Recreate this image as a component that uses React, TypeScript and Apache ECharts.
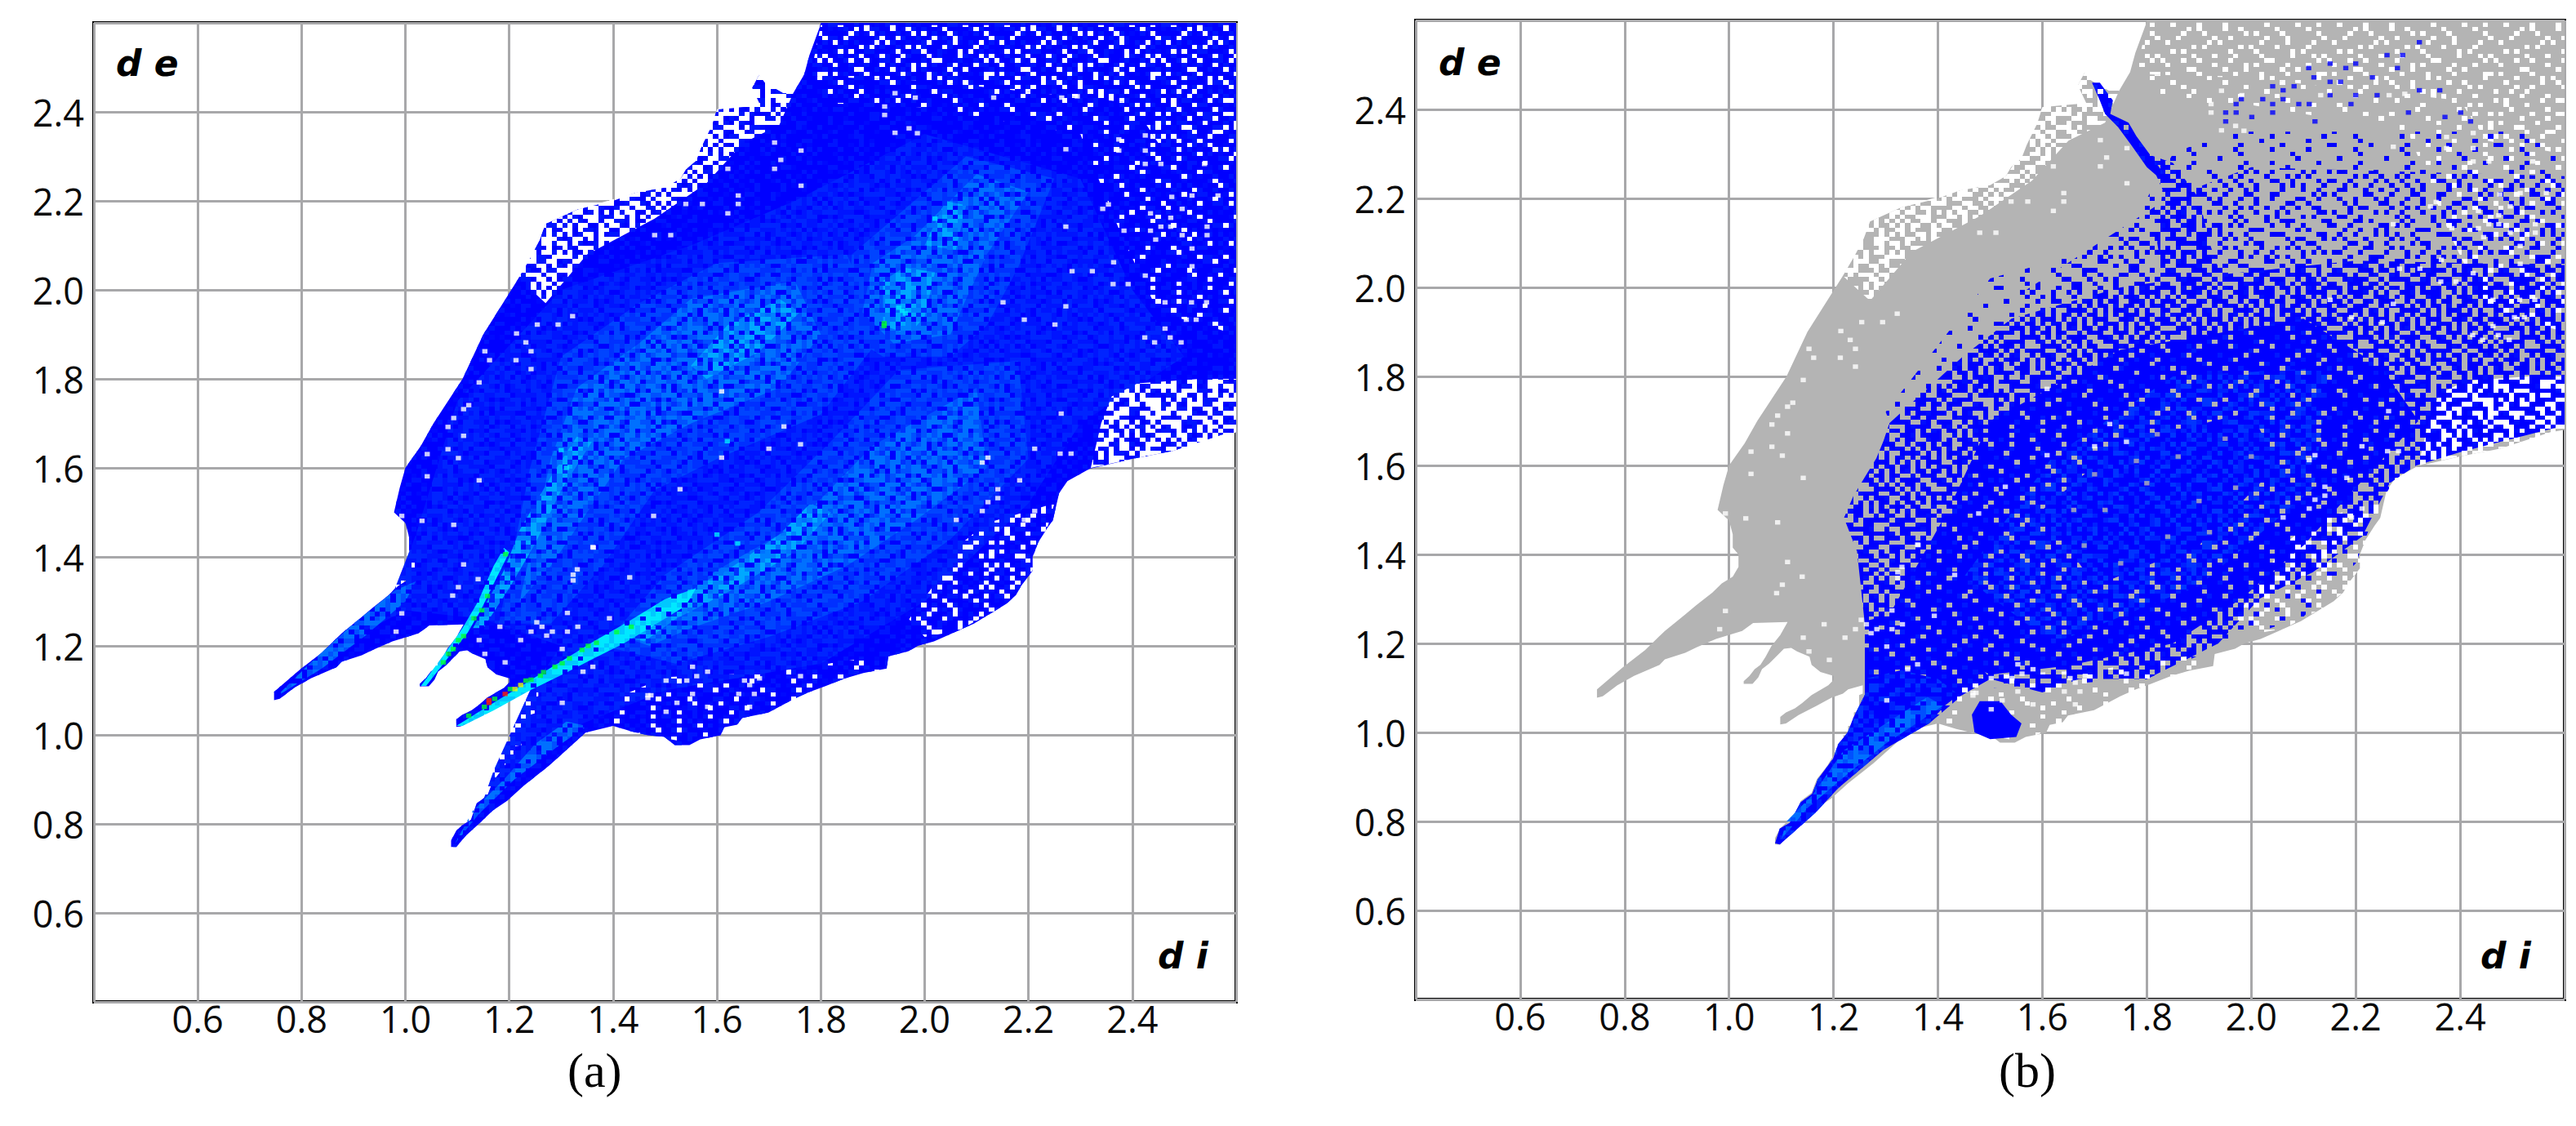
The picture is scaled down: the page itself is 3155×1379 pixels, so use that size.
import { useEffect, useRef } from "react";
import * as echarts from "echarts";

type Pt = [number, number];

const tickLabels = ["0.6", "0.8", "1.0", "1.2", "1.4", "1.6", "1.8", "2.0", "2.2", "2.4"];

// region outline, [di, de]
const outline: Pt[] = [
    [0.747, 1.078], [0.747, 1.097], [0.796, 1.146], [0.839, 1.185], [0.877, 1.228], [0.916, 1.265], [0.937, 1.286],
    [0.968, 1.314], [0.986, 1.335], [1.007, 1.35], [1.018, 1.372], [1.018, 1.4], [1.007, 1.415], [1.007, 1.445],
    [1.0, 1.476], [0.978, 1.5], [0.989, 1.555], [1.0, 1.6], [1.03, 1.65], [1.054, 1.7], [1.11, 1.8], [1.15, 1.9],
    [1.218, 2.026], [1.24, 2.07], [1.258, 2.11], [1.27, 2.148], [1.33, 2.18], [1.4, 2.2], [1.442, 2.218], [1.5, 2.23],
    [1.53, 2.25], [1.54, 2.27], [1.56, 2.29], [1.57, 2.32], [1.59, 2.368], [1.6, 2.405], [1.684, 2.414], [1.668, 2.454],
    [1.681, 2.483], [1.692, 2.466], [1.727, 2.442], [1.747, 2.442], [1.768, 2.484], [1.778, 2.527], [1.798, 2.591],
    [1.8, 2.6], [2.6, 2.6], [2.6, 1.68], [2.573, 1.675], [2.478, 1.638], [2.4, 1.62], [2.318, 1.598], [2.275, 1.57],
    [2.259, 1.543], [2.247, 1.482], [2.236, 1.464], [2.219, 1.433], [2.208, 1.4], [2.208, 1.369], [2.186, 1.335],
    [2.176, 1.314], [2.158, 1.295], [2.137, 1.28], [2.095, 1.25], [2.064, 1.234], [2.035, 1.219], [2.018, 1.21],
    [1.987, 1.2], [1.969, 1.188], [1.93, 1.176], [1.927, 1.149], [1.882, 1.139], [1.847, 1.127], [1.808, 1.109],
    [1.777, 1.096], [1.749, 1.081], [1.699, 1.05], [1.649, 1.038], [1.639, 1.023], [1.614, 1.017], [1.607, 0.999],
    [1.568, 0.99], [1.547, 0.977], [1.519, 0.977], [1.498, 0.996], [1.467, 0.999], [1.435, 1.008], [1.4, 1.02],
    [1.347, 1.005], [1.312, 0.968], [1.277, 0.931], [1.228, 0.886], [1.196, 0.852], [1.168, 0.83], [1.147, 0.806],
    [1.116, 0.773], [1.098, 0.748], [1.088, 0.748], [1.088, 0.763], [1.098, 0.785], [1.109, 0.797], [1.126, 0.809],
    [1.137, 0.846], [1.158, 0.864], [1.168, 0.895], [1.188, 0.925], [1.198, 0.945], [1.208, 0.956], [1.208, 0.974],
    [1.224, 0.977], [1.218, 0.993], [1.228, 0.996], [1.228, 1.014], [1.239, 1.017], [1.239, 1.045], [1.249, 1.048],
    [1.249, 1.084], [1.256, 1.087], [1.256, 1.106], [1.228, 1.097], [1.218, 1.087], [1.196, 1.078], [1.168, 1.06],
    [1.133, 1.039], [1.109, 1.02], [1.098, 1.018], [1.098, 1.035], [1.109, 1.045], [1.126, 1.054], [1.14, 1.066],
    [1.158, 1.084], [1.19, 1.106], [1.2, 1.118], [1.2, 1.127], [1.175, 1.136], [1.158, 1.152], [1.154, 1.17],
    [1.13, 1.182], [1.119, 1.19], [1.105, 1.188], [1.095, 1.176], [1.077, 1.155], [1.063, 1.142], [1.056, 1.124],
    [1.045, 1.109], [1.028, 1.109], [1.028, 1.115], [1.039, 1.127], [1.049, 1.142], [1.06, 1.152], [1.07, 1.17],
    [1.081, 1.194], [1.098, 1.219], [1.112, 1.248], [1.046, 1.246], [1.025, 1.228], [0.975, 1.21], [0.937, 1.191],
    [0.916, 1.179], [0.877, 1.164], [0.867, 1.152], [0.818, 1.127], [0.786, 1.106], [0.758, 1.081],
];

// bands near the edge where the plot breaks up into loose cells
const fringeTopLeft: Pt[] = [[1.218, 2.026], [1.27, 2.148], [1.33, 2.18], [1.442, 2.218], [1.53, 2.25], [1.57, 2.32], [1.6, 2.405], [1.668, 2.454], [1.681, 2.483], [1.727, 2.442], [1.747, 2.442], [1.72, 2.37], [1.65, 2.33], [1.58, 2.24], [1.48, 2.16], [1.35, 2.08], [1.27, 1.97]];
const fringeTop: Pt[] = [[1.8, 2.595], [2.6, 2.595], [2.6, 2.3], [2.45, 2.33], [2.4, 2.42], [2.0, 2.47], [1.78, 2.48]];
const fringeTopLow: Pt[] = [[1.78, 2.48], [2.0, 2.47], [2.4, 2.42], [2.45, 2.33], [2.3, 2.35], [2.0, 2.41], [1.8, 2.42]];
const fringeUpperRight: Pt[] = [[2.3, 2.35], [2.45, 2.33], [2.6, 2.3], [2.6, 1.9], [2.45, 1.95], [2.38, 2.12]];
const fringeLowerRight: Pt[] = [[2.32, 1.6], [2.34, 1.7], [2.36, 1.76], [2.41, 1.79], [2.53, 1.8], [2.6, 1.8], [2.6, 1.68], [2.478, 1.638], [2.4, 1.62]];
const fringeRightEdge: Pt[] = [[2.0, 1.22], [2.064, 1.234], [2.137, 1.28], [2.176, 1.314], [2.208, 1.37], [2.219, 1.433], [2.236, 1.464], [2.25, 1.52], [2.12, 1.476], [2.06, 1.42], [2.02, 1.34], [1.97, 1.26]];
const fringeBottom: Pt[] = [[1.4, 1.02], [1.467, 0.999], [1.56, 0.98], [1.6, 1.0], [1.699, 1.05], [1.847, 1.127], [1.927, 1.149], [1.93, 1.18], [1.7, 1.14], [1.5, 1.13], [1.4, 1.08]];

// density zones of panel (a), outer ones are wider and paler
const zoneFaint: Pt[] = [[1.02, 1.45], [1.1, 1.75], [1.3, 2.0], [1.55, 2.1], [1.75, 2.2], [2.0, 2.35], [2.3, 2.25], [2.4, 2.0], [2.5, 1.85], [2.3, 1.7], [2.2, 1.52], [2.0, 1.3], [1.8, 1.16], [1.5, 1.1], [1.33, 1.02], [1.2, 0.9], [1.14, 0.82], [1.17, 0.92], [1.24, 1.1], [1.3, 1.2], [1.15, 1.26], [1.0, 1.28], [0.9, 1.22], [0.98, 1.33]];
const zoneLeftSpike: Pt[] = [[0.75, 1.085], [0.82, 1.165], [0.9, 1.25], [0.98, 1.325], [1.02, 1.345], [1.0, 1.3], [0.92, 1.22], [0.84, 1.15]];
const zoneLowSpike: Pt[] = [[1.095, 0.755], [1.14, 0.82], [1.21, 0.9], [1.3, 0.98], [1.35, 1.02], [1.31, 1.03], [1.25, 0.98], [1.19, 0.9], [1.13, 0.83]];
const outerSwath: Pt[] = [[1.18, 1.25], [1.24, 1.6], [1.3, 1.85], [1.45, 1.97], [1.6, 2.06], [1.85, 2.08], [1.92, 1.9], [1.8, 1.72], [1.6, 1.62], [1.48, 1.55], [1.38, 1.38], [1.28, 1.25]];
const outerDiag: Pt[] = [[1.38, 1.2], [1.5, 1.36], [1.68, 1.5], [1.82, 1.66], [1.95, 1.82], [2.18, 1.84], [2.2, 1.62], [2.05, 1.44], [1.88, 1.3], [1.7, 1.22], [1.52, 1.16]];
const outerBlob: Pt[] = [[1.85, 1.9], [1.86, 2.08], [1.96, 2.18], [2.08, 2.3], [2.25, 2.25], [2.18, 2.05], [2.12, 1.92], [2.05, 1.85], [1.92, 1.85]];
const zoneSwath: Pt[] = [[1.28, 1.62], [1.33, 1.78], [1.45, 1.88], [1.55, 1.98], [1.75, 2.02], [1.8, 1.9], [1.72, 1.78], [1.55, 1.7], [1.42, 1.62], [1.35, 1.5], [1.28, 1.38], [1.22, 1.3]];
const zoneDiag: Pt[] = [[1.42, 1.22], [1.6, 1.37], [1.75, 1.47], [1.9, 1.65], [2.1, 1.78], [2.12, 1.6], [1.98, 1.48], [1.85, 1.38], [1.7, 1.3], [1.55, 1.24], [1.47, 1.2]];
const zoneBlob: Pt[] = [[1.88, 1.95], [1.9, 2.06], [1.98, 2.12], [2.1, 2.26], [2.2, 2.22], [2.12, 2.08], [2.08, 1.98], [2.05, 1.9], [1.94, 1.88]];
const coreSpike2: Pt[] = [[1.13, 1.24], [1.19, 1.37], [1.22, 1.46], [1.28, 1.58], [1.33, 1.67], [1.36, 1.66], [1.3, 1.55], [1.25, 1.43], [1.2, 1.33], [1.15, 1.24]];
const coreDiag: Pt[] = [[1.42, 1.22], [1.5, 1.3], [1.62, 1.37], [1.72, 1.45], [1.78, 1.52], [1.82, 1.5], [1.75, 1.41], [1.62, 1.32], [1.52, 1.26], [1.46, 1.21]];
const coreBlob: Pt[] = [[1.92, 1.92], [1.92, 2.02], [1.96, 2.05], [2.02, 2.04], [2.0, 1.94], [1.97, 1.9]];
const coreSwath: Pt[] = [[1.55, 1.83], [1.62, 1.92], [1.72, 1.98], [1.76, 1.95], [1.68, 1.86], [1.58, 1.8]];
const coreTop: Pt[] = [[2.0, 2.1], [2.04, 2.2], [2.08, 2.19], [2.06, 2.09]];
const stripLong: Pt[] = [[1.098, 1.02], [1.16, 1.065], [1.23, 1.115], [1.3, 1.165], [1.37, 1.215], [1.43, 1.255], [1.5, 1.305], [1.56, 1.33], [1.54, 1.29], [1.47, 1.24], [1.42, 1.205], [1.36, 1.17], [1.31, 1.14], [1.24, 1.1], [1.17, 1.055], [1.11, 1.02]];
const stripShort: Pt[] = [[1.03, 1.11], [1.08, 1.19], [1.11, 1.24], [1.14, 1.3], [1.17, 1.38], [1.19, 1.42], [1.2, 1.41], [1.17, 1.34], [1.145, 1.28], [1.12, 1.23], [1.07, 1.155], [1.04, 1.11]];

// blue zones of panel (b)
const bSparse: Pt[] = [[1.3, 1.72], [1.5, 2.02], [1.75, 2.1], [1.85, 2.3], [1.95, 2.35], [2.6, 2.35], [2.6, 1.8], [2.5, 1.68], [2.3, 1.62], [2.24, 1.5], [2.2, 1.38], [2.1, 1.26], [1.95, 1.2], [1.8, 1.12], [1.5, 1.1]];
const bLight: Pt[] = [[1.55, 1.98], [1.84, 2.2], [2.0, 2.27], [2.6, 2.25], [2.6, 1.8], [1.8, 1.8]];
const bMedium: Pt[] = [[1.22, 1.482], [1.238, 1.531], [1.26, 1.574], [1.282, 1.616], [1.296, 1.656], [1.307, 1.695], [1.447, 1.844], [1.541, 1.93], [1.75, 2.0], [1.87, 2.02], [2.2, 2.06], [2.6, 2.05], [2.6, 1.69], [2.4, 1.63], [2.316, 1.6], [2.265, 1.56], [2.212, 1.44], [2.118, 1.36], [2.015, 1.3], [1.937, 1.2], [1.8, 1.12], [1.67, 1.12], [1.6, 1.09], [1.5, 1.12], [1.455, 1.092], [1.383, 1.02], [1.26, 1.085], [1.26, 1.243], [1.245, 1.407]];
const bDense: Pt[] = [[1.3, 1.25], [1.42, 1.5], [1.5, 1.7], [1.75, 1.86], [2.1, 1.93], [2.25, 1.82], [2.32, 1.7], [2.2, 1.55], [2.1, 1.42], [1.98, 1.3], [1.85, 1.2], [1.65, 1.15], [1.5, 1.13]];
const bCore: Pt[] = [[1.45, 1.35], [1.62, 1.62], [1.85, 1.8], [2.15, 1.82], [2.12, 1.55], [1.9, 1.33], [1.62, 1.2]];
const bInner: Pt[] = [[1.6, 1.5], [1.75, 1.65], [2.0, 1.72], [2.05, 1.6], [1.9, 1.42], [1.7, 1.33]];
const bSpike: Pt[] = [[1.26, 1.12], [1.26, 1.085], [1.249, 1.059], [1.238, 1.033], [1.227, 1.0], [1.209, 0.974], [1.199, 0.941], [1.17, 0.895], [1.159, 0.862], [1.137, 0.843], [1.116, 0.797], [1.097, 0.784], [1.088, 0.751], [1.097, 0.748], [1.166, 0.82], [1.209, 0.875], [1.296, 0.961], [1.383, 1.02], [1.412, 1.059], [1.44, 1.085], [1.4, 1.12], [1.33, 1.14]];
const bSpikeTop: Pt[] = [[1.26, 1.1], [1.26, 1.25], [1.33, 1.27], [1.45, 1.2], [1.5, 1.12], [1.44, 1.08]];
const bSpikeEdge: Pt[] = [[1.1, 0.76], [1.15, 0.83], [1.22, 0.9], [1.3, 0.975], [1.41, 1.06], [1.38, 1.08], [1.3, 1.02], [1.22, 0.96], [1.16, 0.86], [1.11, 0.8]];
const bBlob: Pt[] = [[1.47, 1.0], [1.5, 0.985], [1.55, 0.99], [1.56, 1.02], [1.54, 1.04], [1.52, 1.07], [1.48, 1.07], [1.465, 1.04]];
const bStrip: Pt[] = [[1.695, 2.46], [1.71, 2.46], [1.735, 2.42], [1.73, 2.39], [1.765, 2.37], [1.78, 2.34], [1.805, 2.3], [1.83, 2.26], [1.83, 2.24], [1.8, 2.27], [1.77, 2.32], [1.745, 2.36], [1.72, 2.39], [1.71, 2.42]];
const bCluster: Pt[] = [[1.8, 2.3], [1.85, 2.28], [1.9, 2.2], [1.92, 2.1], [1.95, 2.0], [1.84, 1.95], [1.82, 2.1], [1.83, 2.22]];

// single blue bins high up in panel (b)
const blueCellsTop: Pt[] = [
    [2.322, 2.551], [2.26, 2.522], [2.29, 2.522], [2.2, 2.503], [2.151, 2.503], [2.11, 2.493], [2.181, 2.493], [2.28, 2.493], [2.12, 2.472], [2.232, 2.472],
    [2.151, 2.462], [2.171, 2.462], [2.041, 2.452], [2.082, 2.452], [2.061, 2.443], [2.322, 2.443], [2.361, 2.443], [2.151, 2.432], [2.2, 2.432], [2.241, 2.432],
    [1.981, 2.423], [2.022, 2.423], [2.061, 2.423], [1.971, 2.412], [2.041, 2.412], [2.091, 2.412], [2.111, 2.412], [2.191, 2.412], [1.951, 2.393], [1.971, 2.393],
    [2.041, 2.393], [2.301, 2.393], [2.401, 2.393], [2.001, 2.383], [2.371, 2.383], [1.951, 2.373], [2.122, 2.373], [2.42, 2.373],
];

// a few gray bins left in the middle of panel (b)
const grayCellsInner: Pt[] = [
    [1.68, 1.42], [1.72, 1.5], [1.75, 1.38], [1.8, 1.56], [1.84, 1.44], [1.86, 1.62], [1.9, 1.52], [1.95, 1.66], [1.97, 1.55], [1.78, 1.61],
    [1.66, 1.5], [2.0, 1.62], [1.82, 1.67], [1.92, 1.45], [1.7, 1.58],
];

// single empty bins inside the region
const whiteCells: Pt[] = [
    [1.361, 1.422], [1.331, 1.372], [1.432, 1.354], [1.323, 1.347], [1.323, 1.36], [1.112, 1.383], [1.14, 1.35], [1.102, 1.332], [1.091, 1.313], [0.993, 1.273],
    [1.312, 1.274], [1.393, 1.262], [1.253, 1.253], [1.182, 1.243], [1.263, 1.243], [1.242, 1.232], [1.283, 1.232], [1.312, 1.232], [1.332, 1.243], [1.272, 1.223],
    [1.222, 1.213], [1.142, 1.213], [1.302, 1.193], [1.153, 1.182], [1.192, 1.163], [1.361, 1.153], [1.342, 1.142], [0.982, 1.232], [1.553, 1.153], [1.582, 1.142],
    [1.502, 1.122], [1.542, 1.122], [1.561, 1.132], [1.653, 1.122], [1.682, 1.127], [1.761, 1.132], [1.663, 1.112], [1.467, 1.089], [1.473, 1.089], [1.467, 1.083],
    [1.553, 1.092], [1.642, 1.092], [1.672, 1.092], [1.302, 1.072], [1.523, 1.072], [1.582, 1.063], [1.663, 1.063], [1.502, 1.052],
    [1.923, 2.412], [1.923, 2.393], [1.943, 2.353], [1.986, 2.352], [1.97, 2.363], [1.943, 2.442], [1.982, 2.432], [2.133, 2.432], [2.264, 2.432], [2.294, 2.435],
    [2.272, 2.316], [2.374, 2.338], [2.425, 2.347], [2.374, 2.313], [2.425, 2.313], [2.425, 2.283], [2.455, 2.283], [2.539, 2.283], [2.476, 2.209], [2.515, 2.212],
    [2.565, 2.212], [2.354, 2.192], [2.343, 2.182], [2.435, 2.172], [2.496, 2.182], [2.474, 2.162], [2.272, 2.142], [2.455, 2.142], [2.474, 2.142], [2.544, 2.142],
    [2.384, 2.133], [2.435, 2.133], [2.496, 2.123], [2.544, 2.123], [2.445, 2.113], [2.515, 2.093], [2.364, 2.062], [2.284, 2.042], [2.323, 2.042], [2.515, 2.053],
    [2.425, 2.032], [1.762, 2.234], [1.641, 2.212], [1.641, 2.193], [1.572, 2.193], [1.54, 2.193], [1.621, 2.172], [1.511, 2.123], [1.48, 2.123], [1.711, 2.331],
    [1.762, 2.313], [1.723, 2.292], [1.711, 2.272], [1.621, 2.272], [1.322, 1.941], [1.254, 1.922], [1.294, 1.922], [1.214, 1.902], [1.232, 1.882], [1.242, 1.862],
    [1.153, 1.862], [1.213, 1.842], [1.162, 1.842], [1.242, 1.822], [1.142, 1.792], [1.122, 1.741], [1.112, 1.732], [1.093, 1.712], [1.082, 1.692], [1.112, 1.672],
    [1.082, 1.642], [1.042, 1.631], [1.102, 1.622], [1.042, 1.581], [1.142, 1.572], [0.993, 1.492], [1.032, 1.481], [1.093, 1.472], [1.362, 1.421], [1.609, 1.772],
    [1.729, 1.693], [1.761, 1.653], [1.7, 1.643], [1.609, 1.623], [1.529, 1.552], [1.478, 1.492], [2.151, 1.972], [2.272, 1.963], [2.192, 1.933], [2.251, 1.922],
    [2.263, 1.722], [2.212, 1.643], [2.261, 1.632], [2.282, 1.632], [2.122, 1.623], [2.111, 1.612], [2.183, 1.572], [2.141, 1.552], [2.141, 1.532], [2.122, 1.523],
    [2.111, 1.503], [2.212, 1.503], [2.192, 1.483], [2.061, 1.483], [2.463, 1.972], [2.514, 1.972], [2.543, 1.972], [2.504, 1.933], [2.523, 1.933], [2.463, 1.913],
    [2.424, 1.893], [2.443, 1.882], [2.473, 1.893], [2.494, 1.882], [2.363, 2.013], [2.392, 2.013],
];

// hottest bins of the spikes in panel (a)
const greenCells: Pt[] = [
    [1.152, 1.063], [1.172, 1.081], [1.202, 1.103], [1.122, 1.043], [1.232, 1.122], [1.242, 1.124], [1.26, 1.133], [1.266, 1.141], [1.288, 1.153], [1.302, 1.161],
    [1.316, 1.172], [1.34, 1.191], [1.352, 1.2], [1.368, 1.207], [1.407, 1.231], [1.435, 1.243], [1.083, 1.182], [1.092, 1.193], [1.073, 1.163], [1.102, 1.213],
    [1.112, 1.222], [1.132, 1.262], [1.147, 1.28], [1.158, 1.312], [1.193, 1.406], [1.922, 1.919], [1.922, 1.925],
];
const yellowCells: Pt[] = [[1.211, 1.103], [1.222, 1.112]];
const redCells: Pt[] = [[1.161, 1.072], [1.161, 1.078], [1.192, 1.092]];
const cyanCells: Pt[] = [[1.957, 1.953], [1.95, 1.96], [1.963, 1.947], [2.02, 2.16], [1.62, 1.66], [1.3, 1.64], [1.31, 1.6], [1.6, 1.45], [1.64, 1.43]];

// mottling tile: one digit per bin, repeated as a fill
const speckleTile = [
    "03718250946137028591460372815940",
    "62950417382960417325089164703258",
    "17483096251748039612574803162947",
    "40926731850296371485932670418593",
    "85172049637514806293071854926013",
    "29630584172963051748462019375862",
    "71048392065841927036185743092461",
    "36592718403627195840369251704835",
    "04816357291480362759104826375190",
    "97230641859273164083572916048527",
    "52164908327506819243680357194263",
    "18795320647193520874216495830716",
    "60342875192648037196053782149085",
    "45081697320591746238974106523849",
    "93627104586037281950432861790254",
    "27519836041862593074618259347106",
    "81046295733719046582305947162893",
    "56382071948450623791872016435920",
    "09714563820927185346069138257461",
    "34295087161386490215743650928374",
    "72861934052715306849120783654109",
    "15049723686042971538697241085326",
    "68320541970893524106385904712658",
    "49176802353160487927416052839047",
    "20953174682547139068253798160314",
    "83607492015986250431708145296783",
    "37148650296401873592064329815670",
    "96025318747238014765981672043582",
    "51789043620859462013347590168297",
    "04362975189146730852986013427561",
    "78510236947320598146052784631908",
    "26943081574697213508741936205483",
];

const CELL_W = 6.36;
const CELL_H = 5.46;

// builds a repeating fill from the tile, color(digit) may give null for an empty bin
function tileFill(color: (d: number) => string | null) {
    const cols = speckleTile[0].length;
    const rows = speckleTile.length;
    const w = Math.round(cols * CELL_W);
    const h = Math.round(rows * CELL_H);
    const c = document.createElement("canvas");
    c.width = w;
    c.height = h;
    const ctx = c.getContext("2d")!;
    speckleTile.forEach((row, j) => {
        for (let i = 0; i < cols; i++) {
            const col = color(Number(row[i]));
            if (!col) continue;
            const x0 = Math.round((i * w) / cols);
            const x1 = Math.round(((i + 1) * w) / cols);
            const y0 = Math.round((j * h) / rows);
            const y1 = Math.round(((j + 1) * h) / rows);
            ctx.fillStyle = col;
            ctx.fillRect(x0, y0, x1 - x0, y1 - y0);
        }
    });
    return { image: c.toDataURL(), repeat: "repeat", imageWidth: w, imageHeight: h };
}

const holes = (limit: number, color: string) => tileFill((d) => (9 - d < limit ? color : null));
const cells = (limit: number, a: string, b: string) => tileFill((d) => (d < limit ? (d === 1 ? b : a) : null));
const dither = (limit: number, a: string, b: string) => tileFill((d) => (d < limit ? (d % 2 ? a : b) : null));

function polygonLayer(points: Pt[], fill: any, gridIndex: number) {
    return {
        type: "custom",
        coordinateSystem: "cartesian2d",
        xAxisIndex: gridIndex,
        yAxisIndex: gridIndex,
        silent: true,
        data: [[1, 1]],
        renderItem: (_p: any, api: any) => ({
            type: "polygon",
            shape: { points: points.map((pt) => api.coord(pt)) },
            style: { fill },
        }),
    };
}

function cellLayer(data: Pt[], color: string, gridIndex: number) {
    return {
        type: "scatter",
        xAxisIndex: gridIndex,
        yAxisIndex: gridIndex,
        silent: true,
        symbol: "rect",
        symbolSize: [CELL_W, CELL_H],
        itemStyle: { color },
        data,
    };
}

function axis(gridIndex: number, isX: boolean) {
    return {
        type: "value",
        gridIndex,
        min: 0.4,
        max: 2.6,
        interval: 0.2,
        axisLine: { show: false },
        axisTick: { show: false },
        splitLine: { show: true, lineStyle: { color: "#a8a8aa", width: 3 } },
        axisLabel: {
            showMinLabel: false,
            showMaxLabel: false,
            margin: isX ? -2 : 12,
            color: "#0a0a0a",
            fontSize: 45,
            fontFamily: "Open Sans",
            formatter: (v: number) => tickLabels[Math.round((v - 0.6) / 0.2)] ?? "",
        },
    };
}

const labelStyle = { fill: "#000", font: "italic bold 44px 'DejaVu Sans'" };
const captionStyle = { fill: "#000", font: "60px 'Liberation Serif'", textAlign: "center" };

export default function App() {
    const chartRef = useRef<HTMLDivElement>(null);

    useEffect(() => {
        if (!chartRef.current) return;
        document.body.style.margin = "0";
        const chart = echarts.init(chartRef.current, undefined, { renderer: "svg" });

        const base = "#0000ff";
        const speck = dither(3, "#0008ff", "#0014ff");
        const faint = dither(8, "#0014ff", "#0024ff");
        const pale = dither(8, "#0030ff", "#0044ff");
        const mid = dither(7, "#0050ff", "#0070ff");
        const hot = dither(6, "#0080ff", "#00a8ff");
        const cyan = dither(9, "#00c8ff", "#00e8ff");

        const whiteHeavy = holes(5, "#ffffff");
        const whiteMid = holes(2, "#ffffff");
        const whiteSparse = holes(1, "#ffffff");

        const blue85 = cells(9, "#0000ff", "#0018ff");
        const blue60 = cells(6, "#0000ff", "#000cff");
        const blue30 = cells(3, "#0000ff", "#0000ff");
        const blue10 = cells(1, "#0000ff", "#0000ff");
        const corePale = dither(4, "#0020ff", "#0034ff");

        const masks = (g: number) => [
            polygonLayer(fringeTop, whiteMid, g),
            polygonLayer(fringeTopLow, whiteSparse, g),
            polygonLayer(fringeUpperRight, whiteSparse, g),
            polygonLayer(fringeTopLeft, whiteHeavy, g),
            polygonLayer(fringeLowerRight, whiteHeavy, g),
            polygonLayer(fringeRightEdge, whiteMid, g),
            polygonLayer(fringeBottom, whiteSparse, g),
        ];

        const panelA = [
            polygonLayer(outline, base, 0),
            polygonLayer(outline, speck, 0),
            polygonLayer(zoneFaint, faint, 0),
            polygonLayer(outerSwath, pale, 0),
            polygonLayer(outerDiag, pale, 0),
            polygonLayer(outerBlob, pale, 0),
            polygonLayer(zoneLeftSpike, mid, 0),
            polygonLayer(zoneLowSpike, mid, 0),
            polygonLayer(zoneSwath, mid, 0),
            polygonLayer(zoneDiag, mid, 0),
            polygonLayer(zoneBlob, mid, 0),
            polygonLayer(coreSpike2, hot, 0),
            polygonLayer(coreDiag, hot, 0),
            polygonLayer(coreBlob, hot, 0),
            polygonLayer(coreSwath, hot, 0),
            polygonLayer(coreTop, hot, 0),
            polygonLayer(stripLong, cyan, 0),
            polygonLayer(stripShort, cyan, 0),
            ...masks(0),
            cellLayer(whiteCells, "#ffffff", 0),
            cellLayer(cyanCells, "#00e8ff", 0),
            cellLayer(greenCells, "#00ff30", 0),
            cellLayer(yellowCells, "#e8ff00", 0),
            cellLayer(redCells, "#ff2000", 0),
        ];

        const panelB = [
            polygonLayer(outline, "#b4b4b4", 1),
            ...masks(1),
            cellLayer(whiteCells, "#ffffff", 1),
            cellLayer(blueCellsTop, "#0000ff", 1),
            polygonLayer(bSparse, blue10, 1),
            polygonLayer(bLight, blue30, 1),
            polygonLayer(bMedium, blue60, 1),
            polygonLayer(bCluster, blue60, 1),
            polygonLayer(bDense, blue85, 1),
            polygonLayer(bInner, base, 1),
            cellLayer(grayCellsInner, "#b4b4b4", 1),
            polygonLayer(bCore, corePale, 1),
            polygonLayer(bSpikeTop, blue85, 1),
            polygonLayer(bSpike, base, 1),
            polygonLayer(bSpike, corePale, 1),
            polygonLayer(bSpikeEdge, mid, 1),
            polygonLayer(bBlob, base, 1),
            polygonLayer(bStrip, blue85, 1),
        ];

        chart.setOption({
            animation: false,
            backgroundColor: "#ffffff",
            grid: [
                { left: 115, top: 28, width: 1399, height: 1199, show: true, borderColor: "#000", borderWidth: 4, backgroundColor: "#fff" },
                { left: 1734, top: 25, width: 1407, height: 1199, show: true, borderColor: "#000", borderWidth: 4, backgroundColor: "#fff" },
            ],
            xAxis: [axis(0, true), axis(1, true)],
            yAxis: [axis(0, false), axis(1, false)],
            series: [...panelA, ...panelB],
            graphic: [
                { type: "text", left: 142, top: 55, z: 10, style: { ...labelStyle, text: "d e" } },
                { type: "text", left: 1418, top: 1148, z: 10, style: { ...labelStyle, text: "d i" } },
                { type: "text", left: 1762, top: 54, z: 10, style: { ...labelStyle, text: "d e" } },
                { type: "text", left: 3038, top: 1148, z: 10, style: { ...labelStyle, text: "d i" } },
                { type: "text", left: 695, top: 1281, z: 10, style: { ...captionStyle, text: "(a)" } },
                { type: "text", left: 2448, top: 1281, z: 10, style: { ...captionStyle, text: "(b)" } },
            ],
        });

        return () => {
            chart.dispose();
        };
    }, []);

    return <div ref={chartRef} style={{ width: 3155, height: 1379 }} />;
}
